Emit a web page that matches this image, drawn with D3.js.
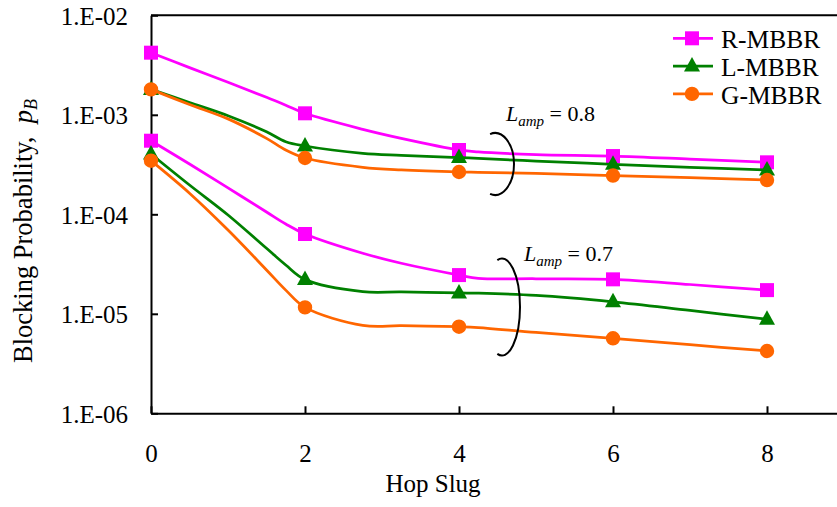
<!DOCTYPE html>
<html>
<head>
<meta charset="utf-8">
<script src="https://cdn.jsdelivr.net/npm/d3@7"></script>
<style>
  body { margin: 0; background: #fff; }
  svg text { font-family: "Liberation Serif", "Times New Roman", serif; fill: #000; }
</style>
</head>
<body>
<svg id="chart" width="837" height="507"></svg>
<script>
// hop slug positions (markers only sit on the even ones)
var hops = [0, 0.5, 1, 1.5, 1.75, 2, 2.75, 3.25, 4, 4.25, 5, 6, 7, 8];
var markerHops = [0, 2, 4, 6, 8];
var xTicks = [0, 2, 4, 6, 8];
var yTicks = [1e-6, 1e-5, 1e-4, 1e-3, 1e-2];
var yTickLabels = ["1.E-06", "1.E-05", "1.E-04", "1.E-03", "1.E-02"];

// L_amp = 0.8
var rMbbr08 = [4.21e-3, 2.98e-3, 2.12e-3, 1.50e-3, 1.25e-3, 1.035e-3, 7.15e-4, 5.80e-4, 4.43e-4, 4.23e-4, 3.99e-4, 3.85e-4, 3.59e-4, 3.33e-4];
var lMbbr08 = [1.80e-3, 1.33e-3, 9.80e-4, 6.76e-4, 5.37e-4, 4.86e-4, 4.10e-4, 3.92e-4, 3.72e-4, 3.64e-4, 3.43e-4, 3.18e-4, 2.97e-4, 2.79e-4];
var gMbbr08 = [1.80e-3, 1.27e-3, 9.10e-4, 5.80e-4, 4.43e-4, 3.68e-4, 2.97e-4, 2.79e-4, 2.66e-4, 2.64e-4, 2.58e-4, 2.45e-4, 2.33e-4, 2.21e-4];
// L_amp = 0.7
var rMbbr07 = [5.49e-4, 3.20e-4, 1.84e-4, 1.055e-4, 7.99e-5, 6.34e-5, 4.06e-5, 3.22e-5, 2.45e-5, 2.27e-5, 2.25e-5, 2.22e-5, 1.97e-5, 1.73e-5];
var lMbbr07 = [4.04e-4, 1.97e-4, 9.84e-5, 4.55e-5, 3.09e-5, 2.21e-5, 1.67e-5, 1.66e-5, 1.62e-5, 1.61e-5, 1.53e-5, 1.32e-5, 1.08e-5, 8.81e-6];
var gMbbr07 = [3.46e-4, 1.63e-4, 6.95e-5, 2.76e-5, 1.73e-5, 1.16e-5, 7.66e-6, 7.59e-6, 7.42e-6, 7.28e-6, 6.49e-6, 5.67e-6, 4.89e-6, 4.23e-6];

var seriesNames = ["R-MBBR", "L-MBBR", "G-MBBR"];
var colors = {"R-MBBR": "#ff00ff", "L-MBBR": "#008000", "G-MBBR": "#ff6600"};
var shapes = {"R-MBBR": "square", "L-MBBR": "triangle", "G-MBBR": "circle"};

var series = [
  {name: "R-MBBR", values: rMbbr07},
  {name: "L-MBBR", values: lMbbr07},
  {name: "G-MBBR", values: gMbbr07},
  {name: "R-MBBR", values: rMbbr08},
  {name: "L-MBBR", values: lMbbr08},
  {name: "G-MBBR", values: gMbbr08}
];

var svg = d3.select("#chart");
var plotLeft = 151, plotTop = 15.3, plotBottom = 413.3, plotRight = 837;

var x = d3.scaleLinear().domain([0, (plotRight - plotLeft) / 77]).range([plotLeft, plotRight]);
var y = d3.scaleLog().domain([1e-6, 1e-2]).range([plotBottom, plotTop]);

// frame top line
svg.append("line")
  .attr("x1", plotLeft).attr("x2", plotRight)
  .attr("y1", plotTop).attr("y2", plotTop)
  .attr("stroke", "#000").attr("stroke-width", 2);

var yAxis = svg.append("g")
  .attr("transform", "translate(" + plotLeft + ",0)")
  .call(d3.axisLeft(y).tickValues(yTicks)
    .tickFormat(function(d, i) { return yTickLabels[i]; })
    .tickSize(-7).tickSizeOuter(0).tickPadding(23));
yAxis.select(".domain").attr("stroke-width", 2);
yAxis.selectAll(".tick line").attr("stroke-width", 2);
yAxis.selectAll("text").style("font-size", "25px").attr("dy", "0.36em");

var xAxis = svg.append("g")
  .attr("transform", "translate(0," + plotBottom + ")")
  .call(d3.axisBottom(x).tickValues(xTicks)
    .tickSize(-7).tickSizeOuter(0).tickPadding(31));
xAxis.select(".domain").attr("stroke-width", 2);
xAxis.selectAll(".tick line").attr("stroke-width", 2);
xAxis.selectAll("text").style("font-size", "25px");

// axis titles
svg.append("text")
  .attr("x", 433).attr("y", 492)
  .attr("text-anchor", "middle")
  .style("font-size", "25px")
  .text("Hop Slug");

var yTitle = svg.append("text")
  .attr("transform", "translate(32,231) rotate(-90)")
  .attr("text-anchor", "middle")
  .style("font-size", "26.5px");
yTitle.append("tspan").text("Blocking Probability,\u00a0 ");
yTitle.append("tspan").style("font-style", "italic").text("p");
yTitle.append("tspan").style("font-style", "italic").style("font-size", "18px")
  .attr("dy", 5).text("B");

function markerPath(shape) {
  if (shape === "square") return "M-7,-7H7V7H-7Z";
  if (shape === "triangle") return "M0,-9L8,5.5L-8,5.5Z";
  return d3.symbol(d3.symbolCircle, Math.PI * 52)();
}

var line = d3.line()
  .x(function(d) { return x(d[0]); })
  .y(function(d) { return y(d[1]); })
  .curve(d3.curveCatmullRom.alpha(0.5));

series.forEach(function(s) {
  var pts = hops.map(function(h, i) { return [h, s.values[i]]; });
  svg.append("path")
    .datum(pts)
    .attr("d", line)
    .attr("fill", "none")
    .attr("stroke", colors[s.name])
    .attr("stroke-width", 2.75);
  svg.selectAll(null)
    .data(pts.filter(function(p) { return markerHops.indexOf(p[0]) >= 0; }))
    .enter()
    .append("path")
    .attr("d", markerPath(shapes[s.name]))
    .attr("transform", function(d) { return "translate(" + x(d[0]) + "," + y(d[1]) + ")"; })
    .attr("fill", colors[s.name]);
});

// legend
var legend = svg.append("g");
seriesNames.forEach(function(name, i) {
  var ly = 38.3 + i * 27.8;
  legend.append("line")
    .attr("x1", 673).attr("x2", 713).attr("y1", ly).attr("y2", ly)
    .attr("stroke", colors[name]).attr("stroke-width", 2.75);
  legend.append("path")
    .attr("d", markerPath(shapes[name]))
    .attr("transform", "translate(692," + ly + ")")
    .attr("fill", colors[name]);
  legend.append("text")
    .attr("x", 721).attr("y", ly + 10)
    .style("font-size", "25.5px")
    .text(name);
});

// L_amp annotations with bracket arcs
function bracket(cx, cy, rx, ry) {
  var a0 = -105 * Math.PI / 180, a1 = 105 * Math.PI / 180;
  var x0 = cx + rx * Math.cos(a0), y0 = cy + ry * Math.sin(a0);
  var x1 = cx + rx * Math.cos(a1), y1 = cy + ry * Math.sin(a1);
  svg.append("path")
    .attr("d", "M" + x0 + "," + y0 + "A" + rx + "," + ry + " 0 1,1 " + x1 + "," + y1)
    .attr("fill", "none").attr("stroke", "#000").attr("stroke-width", 2);
}
function lampLabel(tx, ty, val) {
  var t = svg.append("text").attr("x", tx).attr("y", ty).style("font-size", "22px");
  t.append("tspan").style("font-style", "italic").text("L");
  t.append("tspan").style("font-style", "italic").style("font-size", "15px").attr("dy", 5).text("amp");
  t.append("tspan").attr("dy", -5).text(" = " + val);
}
bracket(495, 164, 19, 31);
lampLabel(506, 120.7, "0.8");
bracket(502, 307, 18, 48.5);
lampLabel(524, 260.7, "0.7");
</script>
</body>
</html>
